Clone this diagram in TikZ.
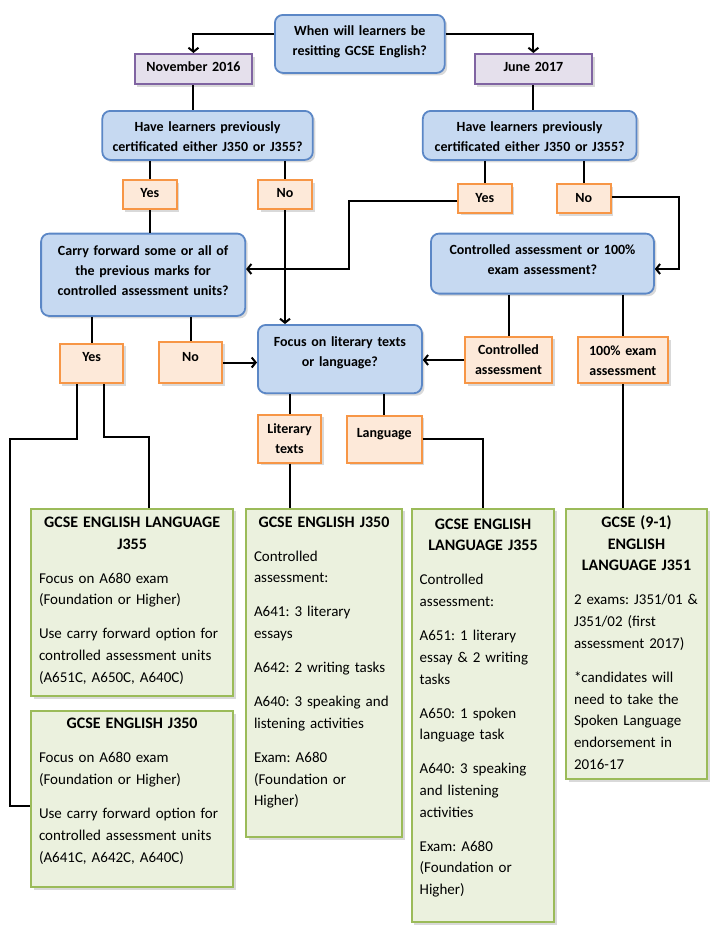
\documentclass[tikz,border=0pt]{standalone}
\usepackage{fontspec}
\setmainfont{Carlito}
\frenchspacing
\usetikzlibrary{arrows.meta,shadows}
\definecolor{qfill}{HTML}{C6D9F1}
\definecolor{qdraw}{HTML}{5B87C6}
\definecolor{dfill}{HTML}{E5E0EC}
\definecolor{ddraw}{HTML}{8064A2}
\definecolor{afill}{HTML}{FDE9D9}
\definecolor{adraw}{HTML}{F79646}
\definecolor{rfill}{HTML}{EBF1DE}
\definecolor{rdraw}{HTML}{9BBB59}
\begin{document}
\begin{tikzpicture}[x=1pt, y=-1pt,
	box/.style={anchor=north west, inner sep=0pt, line width=2pt, align=center, font=\fontsize{14}{20}\selectfont\bfseries,
		drop shadow={shadow xshift=2.5pt, shadow yshift=-2.5pt, opacity=0.3}},
	question/.style={box, draw=qdraw, fill=qfill, rounded corners=8pt, line width=1.8pt},
	when/.style={box, draw=ddraw, fill=dfill},
	answer/.style={box, draw=adraw, fill=afill},
	result/.style={box, draw=rdraw, fill=rfill, inner xsep=8pt, align=left, font=\fontsize{15}{21.7}\selectfont},
	link/.style={line width=2pt},
	linkarr/.style={link, -{Straight Barb[length=4pt, width=10pt]}}]
	\useasboundingbox (0,0) rectangle (716,937);

	\node[question, text width=169.8pt, text height=21pt, text depth=37pt] (start) at (274,14) {When will learners be\\resitting GCSE English?};
	\node[when, text width=117.3pt, text height=17.5pt, text depth=12.5pt] (nov) at (133.8,53) {November 2016};
	\node[when, text width=117.8pt, text height=17.5pt, text depth=12.5pt] (jun) at (473.5,53) {June 2017};
	\node[question, text width=210.5pt, text height=21pt, text depth=28pt] (qnov) at (101.4,110) {Have learners previously\\certificated either J350 or J355?};
	\node[question, text width=213.7pt, text height=21pt, text depth=28pt] (qjun) at (421.9,110) {Have learners previously\\certificated either J350 or J355?};
	\node[answer, text width=53.9pt, text height=17.7pt, text depth=11.3pt] (yesnov) at (121.9,179) {Yes};
	\node[answer, text width=54pt, text height=17.7pt, text depth=11.3pt] (nonov) at (257,179) {No};
	\node[answer, text width=53.5pt, text height=18.7pt, text depth=10pt] (yesjun) at (457,183) {Yes};
	\node[answer, text width=53.9pt, text height=18.7pt, text depth=10.3pt] (nojun) at (555.7,183) {No};
	\node[question, text width=204.1pt, text height=22.3pt, text depth=60pt] (carry) at (40.2,232.7) {Carry forward some or all of\\the previous marks for\\controlled assessment units?};
	\node[question, text width=222.9pt, text height=20.6pt, text depth=39.4pt] (mode) at (430.1,232.7) {Controlled assessment or 100\%\\exam assessment?};
	\node[answer, text width=63.5pt, text height=18pt, text depth=21.6pt] (yescarry) at (58.9,342.7) {Yes};
	\node[answer, text width=63pt, text height=20pt, text depth=21.6pt] (nocarry) at (158,340.7) {No};
	\node[question, text width=164pt, text height=21.7pt, text depth=46.6pt] (focus) at (257,324) {Focus on literary texts\\or language?};
	\node[answer, text width=87pt, text height=17.6pt, text depth=29pt] (ctrl) at (464,335.7) {Controlled\\assessment};
	\node[answer, text width=90.3pt, text height=18.3pt, text depth=28pt] (exam) at (576.7,336) {100\% exam\\assessment};
	\node[answer, text width=63pt, text height=19pt, text depth=29pt] (lit) at (257,413.7) {Literary\\texts};
	\node[answer, text width=74.5pt, text height=22pt, text depth=25pt] (lang) at (346,414.7) {Language};

	\node[result, text width=186.3pt, text height=18.8pt, text depth=168.5pt] (langcarry) at (30,507.7) {%
		\makebox[\linewidth]{\fontsize{16}{21.7}\selectfont\bfseries GCSE ENGLISH LANGUAGE}\\
		\makebox[\linewidth]{\fontsize{16}{21.7}\selectfont\bfseries J355}\\[12.3pt]
		Focus on A680 exam\\(Foundation or Higher)\\[12.3pt]
		\mbox{Use carry forward option for}\\controlled assessment units\\(A651C, A650C, A640C)};
	\node[result, text width=186.3pt, text height=17.9pt, text depth=158.1pt] (engcarry) at (30,710) {%
		\makebox[\linewidth]{\fontsize{16}{21.7}\selectfont\bfseries GCSE ENGLISH J350}\\[12.3pt]
		Focus on A680 exam\\(Foundation or Higher)\\[12.3pt]
		\mbox{Use carry forward option for}\\controlled assessment units\\(A641C, A642C, A640C)};
	\node[result, text width=140pt, text height=18.5pt, text depth=309.8pt] (eng) at (245,507.7) {%
		\makebox[\linewidth]{\fontsize{16}{21.7}\selectfont\bfseries GCSE ENGLISH J350}\\[12.3pt]
		Controlled\\assessment:\\[12.3pt]
		A641: 3 literary\\essays\\[12.3pt]
		A642: 2 writing tasks\\[12.3pt]
		\mbox{A640: 3 speaking and}\\listening activities\\[12.3pt]
		Exam: A680\\(Foundation or\\Higher)};
	\node[result, text width=126.6pt, text height=20.5pt, text depth=392.8pt] (langctrl) at (410.7,507.7) {%
		\makebox[\linewidth]{\fontsize{16}{21.7}\selectfont\bfseries GCSE ENGLISH}\\
		\makebox[\linewidth]{\fontsize{16}{21.7}\selectfont\bfseries LANGUAGE J355}\\[12.3pt]
		Controlled\\assessment:\\[12.3pt]
		A651: 1 literary\\essay \& 2 writing\\tasks\\[12.3pt]
		A650: 1 spoken\\language task\\[12.3pt]
		A640: 3 speaking\\and listening\\activities\\[12.3pt]
		Exam: A680\\(Foundation or\\Higher)};
	\node[result, text width=125pt, text height=18.8pt, text depth=251.8pt] (langexam) at (565,507.7) {%
		\makebox[\linewidth]{\fontsize{16}{21.7}\selectfont\bfseries GCSE (9-1)}\\
		\makebox[\linewidth]{\fontsize{16}{21.7}\selectfont\bfseries ENGLISH}\\
		\makebox[\linewidth]{\fontsize{16}{21.7}\selectfont\bfseries LANGUAGE J351}\\[12.3pt]
		\mbox{2 exams: J351/01 \&}\\J351/02 (first\\assessment 2017)\\[12.3pt]
		*candidates will\\need to take the\\Spoken Language\\endorsement in\\2016-17};

	\coordinate (bendyes) at (349,269);
	\coordinate (bendno) at (679,269);
	\coordinate (bendeng) at (10,439);
	\coordinate (bendlang) at (149,437);

	\draw[linkarr] ([yshift=10pt]start.west) -| (nov.north);
	\draw[linkarr] ([yshift=10pt]start.east) -| (jun.north);
	\draw[link] (nov.south) -- (nov.south |- qnov.north);
	\draw[link] (jun.south) -- (jun.south |- qjun.north);
	\draw[link] (yesnov.north |- qnov.south) -- (yesnov.north);
	\draw[link] (nonov.north |- qnov.south) -- (nonov.north);
	\draw[link] (yesjun.north |- qjun.south) -- (yesjun.north);
	\draw[link] (nojun.north |- qjun.south) -- (nojun.north);
	\draw[linkarr] ([yshift=-3pt]yesjun.west) -| (bendyes) -- (bendyes -| carry.east);
	\draw[linkarr] ([yshift=2pt]nojun.east) -| (bendno) -- (bendno -| mode.east);
	\draw[link] (yesnov.south) -- (yesnov.south |- carry.north);
	\draw[linkarr] (nonov.south) -- (nonov.south |- focus.north);
	\draw[link] (yescarry.north |- carry.south) -- (yescarry.north);
	\draw[link] (nocarry.north |- carry.south) -- (nocarry.north);
	\draw[linkarr] (nocarry.east) -- (nocarry.east -| focus.west);
	\draw[link] (ctrl.north |- mode.south) -- (ctrl.north);
	\draw[link] (exam.north |- mode.south) -- (exam.north);
	\draw[linkarr] (ctrl.west) -- (ctrl.west -| focus.east);
	\draw[link] (lit.north |- focus.south) -- (lit.north);
	\draw[link] (lang.north |- focus.south) -- (lang.north);
	\draw[link] (lit.south) -- (lit.south |- eng.north);
	\draw[link] (lang.east) -| (langctrl.north);
	\draw[link] (exam.south) -- (exam.south |- langexam.north);
	\draw[link] ([xshift=-15pt]yescarry.south) |- (bendeng) |- ([yshift=-7pt]engcarry.west);
	\draw[link] ([xshift=12pt]yescarry.south) |- (bendlang) -- (bendlang |- langcarry.north);
\end{tikzpicture}
\end{document}
